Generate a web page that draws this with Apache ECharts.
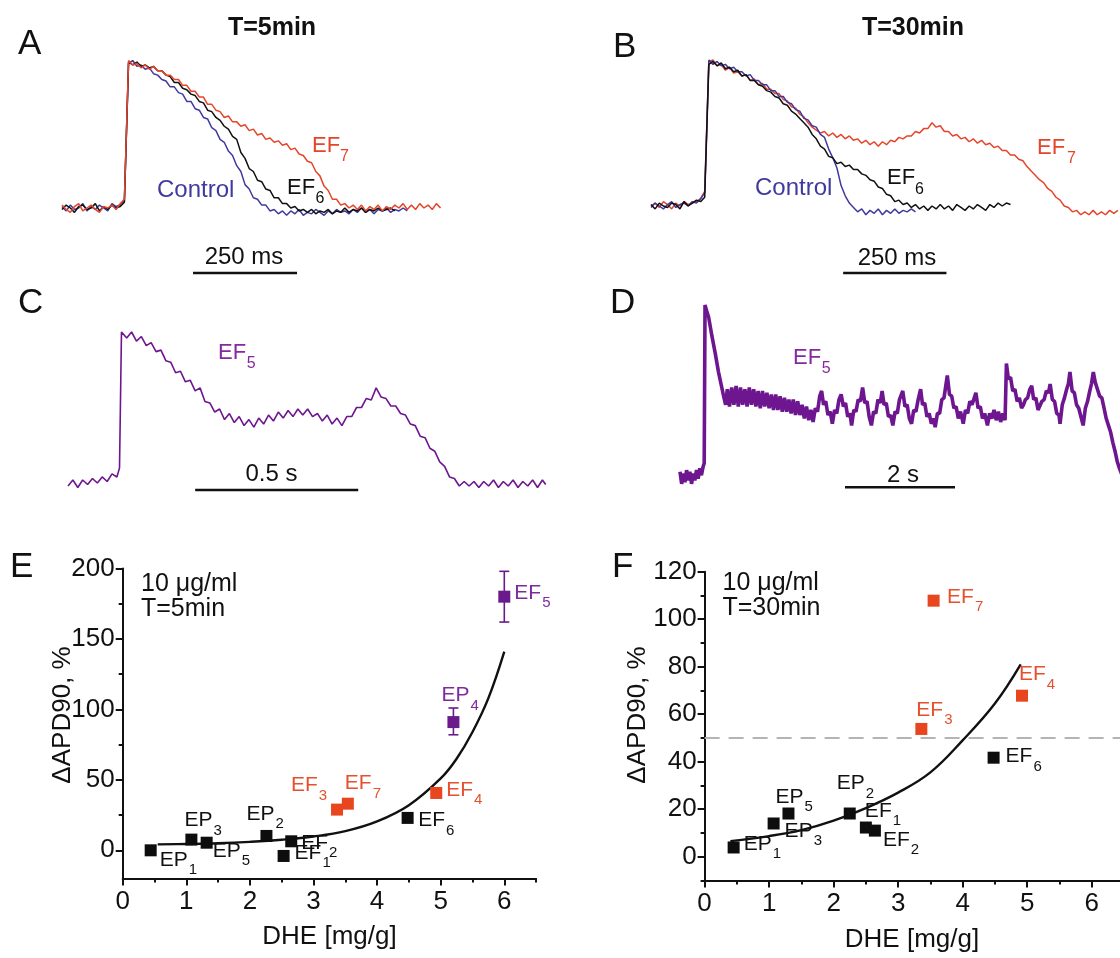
<!DOCTYPE html>
<html>
<head>
<meta charset="utf-8">
<script src="https://cdn.jsdelivr.net/npm/echarts@6/dist/echarts.min.js"></script>
<style>html,body{margin:0;padding:0;background:#fff}#c{width:1120px;height:958px}</style>
</head>
<body>
<div id="c"></div>
<script>
// ---------------- DATA ----------------
// Panels A/B: optical action potentials, sampled every 10 ms, amplitude in % (0 = rest, 100 = peak)
const stepAB = 10;
const aControl = [1,-2,2,-1,0,3,-2,1,-1,2,0,-2,3,1,2,5,99,101,97,98,95,96,92,91,88,87,83,83,79,78,73,73,68,67,62,61,55,53,47,45,39,36,29,25,16,13,7,6,2,2,-2,-1,-4,-2,-5,-2,-4,-1,-5,-3,-4,-1,-3,-5,-2,-4,-1,-3,-2,-4,-1,-3,0,-3,-1,-4,-1,-2,0,-3,-1,-2,0,-2];
const aEF6 = [-1,2,0,-3,1,2,-1,0,3,-2,1,-1,2,0,1,4,100,98,100,97,98,96,97,94,94,91,90,86,86,82,81,78,77,73,72,67,66,62,60,56,54,49,47,38,34,27,25,19,18,13,12,7,7,3,3,0,1,-2,-1,-3,-1,-4,-2,-3,-1,-4,-2,-3,0,-3,-1,-2,0,-3,-1,-2,0,-2,-1,0,-2];
const aEF7 = [2,-1,-3,1,3,-2,0,2,-1,-3,1,0,2,-1,3,6,101,98,99,96,98,95,97,94,94,91,91,88,88,84,84,80,80,76,76,71,71,67,66,62,63,59,59,56,57,53,54,50,51,47,48,45,46,43,44,40,41,37,36,32,31,25,22,15,12,6,6,2,3,0,2,-1,2,-2,1,-1,2,-2,1,-1,2,0,3,-1,2,-1,3,0,2,-1,3,0];
const bControl = [-1,2,0,-2,1,3,-1,1,2,0,3,2,5,9,100,97,99,96,97,94,95,92,92,89,90,86,86,83,83,79,79,75,75,71,70,66,65,60,59,55,54,49,47,39,33,26,14,7,2,-1,-4,-2,-6,-3,-5,-2,-6,-3,-5,-2,-5,-3,-4,-2,-4];
const bEF6 = [1,-2,2,0,-1,2,1,-2,3,0,2,4,3,6,97,99,96,98,94,95,92,93,89,90,86,86,83,82,79,78,75,74,70,69,65,63,60,57,54,49,46,41,39,34,33,29,30,27,28,25,25,22,21,18,17,13,12,8,7,3,4,1,2,-1,1,-2,0,-3,0,-2,1,-2,0,-3,1,-1,-3,0,-2,1,-1,-3,1,-1,2,0,2,1];
const bEF7 = [0,2,-1,3,1,-2,2,0,3,1,2,3,5,10,99,100,96,97,93,95,91,92,89,90,86,87,83,84,80,80,77,77,73,72,68,67,63,61,57,54,52,50,51,48,50,47,49,46,48,45,46,43,45,42,44,41,44,42,45,44,47,46,48,48,51,50,53,53,57,54,55,51,51,48,49,46,47,44,46,43,45,42,43,40,41,38,38,35,35,32,31,27,24,21,18,16,12,10,6,4,0,-1,-4,-3,-6,-4,-6,-3,-6,-4,-6,-3,-5,-3];
// Panel C: [time ms, amplitude %]
const cEF5 = [[0,-2],[15,2],[30,-3],[45,2],[60,-1],[75,3],[90,0],[105,4],[120,1],[135,6],[150,4],[158,10],[164,100],[180,96],[195,100],[210,94],[225,97],[240,91],[255,93],[270,87],[285,88],[300,81],[315,80],[330,73],[345,74],[360,67],[375,68],[390,61],[405,63],[420,54],[435,53],[450,47],[465,49],[480,42],[495,46],[510,40],[525,44],[540,38],[555,42],[570,37],[585,43],[600,39],[615,45],[630,41],[645,47],[660,43],[675,48],[690,44],[705,49],[720,45],[735,49],[750,44],[765,46],[780,41],[795,45],[810,39],[825,43],[840,38],[855,44],[870,44],[885,50],[900,50],[915,56],[930,55],[945,63],[960,57],[975,56],[990,51],[1005,51],[1020,46],[1035,45],[1050,39],[1065,38],[1080,31],[1095,30],[1110,23],[1125,21],[1140,14],[1155,11],[1170,4],[1185,3],[1200,-2],[1215,1],[1230,-2],[1245,1],[1260,-3],[1275,1],[1290,-2],[1305,2],[1320,-3],[1335,1],[1350,-2],[1365,2],[1380,-3],[1395,1],[1410,-2],[1425,2],[1440,-3],[1455,2],[1465,-1]];
// Panel D: [time ms, amplitude %]
const dEF5 = [[0,3],[30,-4],[60,2],[90,-3],[120,4],[150,-2],[180,3],[210,-4],[240,2],[270,-2],[300,4],[330,-1],[360,5],[390,1],[420,6],[440,8],[455,100],[480,97],[520,93],[580,82],[640,72],[700,61],[760,52],[800,46],[830,42],[860,51],[900,41],[940,52],[980,42],[1020,53],[1060,41],[1100,52],[1140,42],[1180,51],[1220,41],[1260,52],[1300,42],[1340,51],[1380,41],[1420,50],[1460,40],[1500,50],[1540,41],[1580,49],[1620,40],[1660,48],[1700,39],[1740,48],[1780,39],[1820,47],[1860,38],[1900,46],[1940,38],[1980,45],[2020,37],[2060,45],[2100,36],[2140,44],[2180,36],[2220,42],[2260,34],[2300,41],[2340,33],[2380,39],[2420,32],[2460,40],[2500,38],[2540,47],[2575,50],[2610,42],[2650,44],[2690,36],[2730,38],[2770,31],[2810,39],[2850,37],[2890,45],[2930,48],[2970,41],[3010,43],[3050,35],[3090,37],[3120,30],[3160,39],[3200,38],[3240,45],[3280,44],[3320,52],[3360,43],[3400,44],[3440,35],[3480,30],[3520,38],[3560,37],[3600,45],[3640,43],[3675,50],[3710,42],[3750,43],[3790,35],[3830,36],[3870,30],[3910,38],[3950,37],[3990,45],[4050,50],[4090,41],[4130,42],[4170,34],[4210,31],[4250,39],[4290,38],[4330,45],[4375,51],[4410,42],[4450,43],[4490,35],[4530,37],[4570,31],[4610,34],[4640,29],[4680,37],[4720,37],[4760,45],[4800,46],[4860,59],[4900,48],[4940,47],[4980,40],[5020,41],[5060,34],[5100,38],[5150,31],[5190,39],[5230,37],[5270,44],[5310,42],[5380,49],[5420,40],[5460,41],[5500,34],[5540,37],[5590,30],[5630,37],[5670,34],[5710,39],[5750,33],[5790,38],[5830,32],[5870,37],[5910,33],[5935,66],[5970,57],[6010,58],[6050,50],[6090,51],[6130,44],[6170,46],[6210,40],[6245,42],[6280,45],[6320,46],[6360,51],[6395,53],[6430,45],[6470,46],[6510,39],[6545,38],[6580,44],[6620,45],[6660,50],[6700,49],[6730,54],[6770,45],[6810,44],[6850,37],[6890,36],[6910,31],[6950,42],[6990,46],[7030,51],[7060,54],[7090,61],[7130,50],[7170,49],[7210,42],[7250,40],[7290,35],[7330,30],[7370,40],[7410,44],[7450,50],[7480,54],[7515,61],[7550,55],[7590,51],[7630,47],[7670,46],[7710,40],[7750,34],[7790,30],[7830,26],[7870,20],[7910,15],[7950,9],[7990,5],[8040,1],[8100,-2]];
// Scale bars: [start ms, end ms, level %]
const barA = [315, 565, -44.5];
const barB = [465, 715, -45.9];
const barC = [390, 890, -4.6];
const barD = [3000, 5000, -6];

// Panel E (T=5min)
const eNames = ['EP','EP','EP','EP','EF','EF','EF','EF','EF','EF','EP','EF'];
const eSubs  = ['1','3','5','2','1','2','3','7','4','6','4','5'];
const eGroup = ['k','k','k','k','k','k','r','r','r','k','p','p'];
const eX = [0.44,1.08,1.32,2.26,2.53,2.65,3.37,3.54,4.93,4.48,5.2,6.0];
const eY = [0,7.6,5.4,10.2,-4,6.4,28.9,33.1,40.7,23,91,180];
const eErrX = [5.2, 6.0];
const eErrLo = [82, 162];
const eErrHi = [101, 198];
const eFitX = [0.55,1,1.5,2,2.5,3,3.5,4,4.5,5,5.25,5.5,5.75,6];
const eFitY = [4.2,4.5,5,6,7.5,9.8,13.6,20.5,32,51,65,84,108,141];
// Panel F (T=30min)
const fNames = ['EP','EP','EP','EP','EF','EF','EF','EF','EF','EF'];
const fSubs  = ['1','3','5','2','1','2','3','7','4','6'];
const fGroup = ['k','k','k','k','k','k','r','r','r','k'];
const fX = [0.45,1.07,1.3,2.25,2.5,2.64,3.36,3.55,4.92,4.48];
const fY = [3.9,14,18.2,18.2,12.3,11,53.8,107.8,67.8,41.7];
const fFitX = [0.4,1,1.5,2,2.5,3,3.5,4,4.5,4.9];
const fFitY = [6.6,8.7,11.2,15.2,20.5,27,35.5,49,64.5,81];
const fThreshold = 50;
// Tick values
const xTicks = [0,1,2,3,4,5,6];
const xMinorTicks = [0.5,1.5,2.5,3.5,4.5,5.5,6.5];
const eYTicks = [0,50,100,150,200];
const eYMinor = [25,75,125,175];
const fYTicks = [0,20,40,60,80,100,120];
const fYMinor = [-10,10,30,50,70,90,110];

// ---------------- STYLE ----------------
const FF = '"Liberation Sans", Arial, Helvetica, sans-serif';
const C_BLUE = '#403a9e', C_BLACK = '#111111', C_RED = '#e5452a', C_PURPLE = '#6e1590', C_PURPLE_T = '#86299f';
const GROUP_COL = {k: '#0d0d0d', r: '#e8461f', p: '#6b1a8c'};
const GROUP_TXT = {k: '#111111', r: '#e5502e', p: '#7d2a9c'};
// label offsets [dx, dy] from the marker centre (style only)
const eLabelOff = [[9,9.5],[-7,-19],[6,8],[-20,-22],[11,-3],[10,1.7],[-46,-24],[-3,-20],[10,-2.7],[10.6,2.6],[-12,-26.5],[10,-3.4]];
const fLabelOff = [[10,-3.3],[11,7.7],[-13,-16.5],[-13,-30],[-1,-16.3],[8,9.1],[-5,-19],[13.5,-3.7],[-3,-21],[12,-1.3]];

// ---------------- BUILD ----------------
function trace(values, xi, color, width) {
  return {type:'line', xAxisIndex:xi, yAxisIndex:xi, data: values.map((v,i)=>[i*stepAB, v]),
    symbol:'none', lineStyle:{color, width}, silent:true, animation:false, z:2};
}
function pairTrace(pairs, xi, color, width) {
  return {type:'line', xAxisIndex:xi, yAxisIndex:xi, data: pairs,
    symbol:'none', lineStyle:{color, width}, silent:true, animation:false, z:2};
}
function bar(b, xi) {
  return {type:'line', xAxisIndex:xi, yAxisIndex:xi, data:[[b[0],b[2]],[b[1],b[2]]],
    symbol:'none', lineStyle:{color:'#111', width:2.6}, silent:true, animation:false, z:3};
}
function scatterData(xs, ys, names, subs, groups, offs) {
  return xs.map((x,i)=>({
    value:[x, ys[i]],
    itemStyle:{color: GROUP_COL[groups[i]], opacity:1},
    label:{show:true, position:'inside', align:'left', verticalAlign:'middle', opacity:1,
      offset: offs[i],
      formatter: '{m|' + names[i] + '}{s|' + subs[i] + '}',
      rich:{
        m:{fontSize:21, fontFamily:FF, color: GROUP_TXT[groups[i]], opacity:1},
        s:{fontSize:15, fontFamily:FF, color: GROUP_TXT[groups[i]], opacity:1, padding:[20,0,0,1]}
      }}
  }));
}
function hiddenAxis(gi, min, max) {
  return {type:'value', gridIndex:gi, min, max, show:false, splitLine:{show:false}};
}
function majorAxis(gi, min, max, ticks, pos, margin) {
  return {type:'value', gridIndex:gi, min, max, position:pos, offset:0,
    axisLine:{show:true, onZero:false, lineStyle:{color:'#111', width:2}},
    axisTick:{show:true, customValues:ticks, length:7, inside:false, lineStyle:{color:'#111', width:2}},
    axisLabel:{show:true, customValues:ticks, fontSize:26, fontFamily:FF, color:'#111', margin},
    splitLine:{show:false}, minorTick:{show:false}};
}
function minorAxis(gi, min, max, ticks, pos) {
  return {type:'value', gridIndex:gi, min, max, position:pos, offset:0,
    axisLine:{show:false, onZero:false},
    axisTick:{show:true, customValues:ticks, length:4, inside:false, lineStyle:{color:'#111', width:2}},
    axisLabel:{show:false}, splitLine:{show:false}};
}
function T(x, y, text, size, color, opt) {
  opt = opt || {};
  const el = {type:'text', x, y, silent:true, z:10,
    style:{text, fill: color || '#111', font: (opt.weight||'normal') + ' ' + size + 'px ' + FF,
      align: opt.align || 'left', verticalAlign:'middle', textAlign: opt.align || 'left', textVerticalAlign:'middle'}};
  if (opt.rotation) el.rotation = opt.rotation;
  return el;
}

const errRender = function(params, api) {
  const x = api.value(0), lo = api.value(1), hi = api.value(2);
  const p1 = api.coord([x, lo]), p2 = api.coord([x, hi]);
  const w = 5, st = {stroke: GROUP_COL.p, lineWidth: 1.6};
  return {type:'group', children:[
    {type:'line', shape:{x1:p1[0], y1:p1[1], x2:p2[0], y2:p2[1]}, style:st},
    {type:'line', shape:{x1:p1[0]-w, y1:p1[1], x2:p1[0]+w, y2:p1[1]}, style:st},
    {type:'line', shape:{x1:p2[0]-w, y1:p2[1], x2:p2[0]+w, y2:p2[1]}, style:st}
  ]};
};

const gridBase = {containLabel:false, outerBoundsMode:'none'};
const option = {
  animation:false,
  backgroundColor:'#fff',
  grid:[
    Object.assign({left:62, top:47.4, width:395.2, height:233.6}, gridBase),
    Object.assign({left:651, top:45.4, width:475.2, height:233.6}, gridBase),
    Object.assign({left:68, top:316.9, width:489.1, height:181.2}, gridBase),
    Object.assign({left:680, top:287.8, width:451, height:206.4}, gridBase),
    Object.assign({left:122.7, top:568.5, width:413.4, height:310}, gridBase),
    Object.assign({left:704.6, top:571.7, width:419.3, height:308.8}, gridBase)
  ],
  xAxis:[
    hiddenAxis(0, 0, 950), hiddenAxis(1, 0, 1150), hiddenAxis(2, 0, 1500), hiddenAxis(3, 0, 8200),
    majorAxis(4, 0, 6.5, xTicks, 'bottom', 10), minorAxis(4, 0, 6.5, xMinorTicks, 'bottom'),
    majorAxis(5, 0, 6.5, xTicks, 'bottom', 10), minorAxis(5, 0, 6.5, xMinorTicks, 'bottom')
  ],
  yAxis:[
    hiddenAxis(0, -50, 110), hiddenAxis(1, -50, 110), hiddenAxis(2, -10, 110), hiddenAxis(3, -10, 110),
    majorAxis(4, -20, 200, eYTicks, 'left', 8), minorAxis(4, -20, 200, eYMinor, 'left'),
    majorAxis(5, -10, 120, fYTicks, 'left', 8), minorAxis(5, -10, 120, fYMinor, 'left')
  ],
  series:[
    trace(aControl, 0, C_BLUE, 1.5), trace(aEF6, 0, C_BLACK, 1.5), trace(aEF7, 0, C_RED, 1.5), bar(barA, 0),
    trace(bEF7, 1, C_RED, 1.5), trace(bControl, 1, C_BLUE, 1.5), trace(bEF6, 1, C_BLACK, 1.5), bar(barB, 1),
    pairTrace(cEF5, 2, C_PURPLE, 1.6), bar(barC, 2),
    pairTrace(dEF5, 3, C_PURPLE, 3.6), bar(barD, 3),
    {type:'line', xAxisIndex:4, yAxisIndex:4, data: eFitX.map((x,i)=>[x, eFitY[i]]), smooth:0.4,
      symbol:'none', lineStyle:{color:'#111', width:2.4}, silent:true, z:2},
    {type:'custom', xAxisIndex:4, yAxisIndex:4, data: eErrX.map((x,i)=>[x, eErrLo[i], eErrHi[i]]),
      renderItem: errRender, encode:{x:0, y:[1,2]}, silent:true, z:3},
    {type:'scatter', xAxisIndex:4, yAxisIndex:4, symbol:'rect', symbolSize:12, silent:true, z:4,
      itemStyle:{opacity:1}, data: scatterData(eX, eY, eNames, eSubs, eGroup, eLabelOff)},
    {type:'line', xAxisIndex:6, yAxisIndex:6, data:[[0, fThreshold],[6.5, fThreshold]], symbol:'none',
      lineStyle:{color:'#b4b4b4', width:2, type:[15,9]}, silent:true, z:1},
    {type:'line', xAxisIndex:6, yAxisIndex:6, data: fFitX.map((x,i)=>[x, fFitY[i]]), smooth:0.4,
      symbol:'none', lineStyle:{color:'#111', width:2.4}, silent:true, z:2},
    {type:'scatter', xAxisIndex:6, yAxisIndex:6, symbol:'rect', symbolSize:12, silent:true, z:4,
      itemStyle:{opacity:1}, data: scatterData(fX, fY, fNames, fSubs, fGroup, fLabelOff)}
  ],
  graphic:[
    // panel letters
    T(18, 44, 'A', 35), T(613, 47.5, 'B', 35), T(18, 303, 'C', 35), T(610, 303, 'D', 35),
    T(10, 567, 'E', 35), T(612, 567, 'F', 35),
    // titles
    T(272, 28, 'T=5min', 25, '#111', {weight:'bold', align:'center'}),
    T(913, 28, 'T=30min', 25, '#111', {weight:'bold', align:'center'}),
    // A labels
    T(157, 190, 'Control', 24, C_BLUE), T(287, 188, 'EF', 22), T(315.5, 199, '6', 16),
    T(312, 146, 'EF', 22, C_RED), T(340, 156.5, '7', 16, C_RED),
    T(244, 257, '250 ms', 24, '#111', {align:'center'}),
    // B labels
    T(755, 188, 'Control', 24, C_BLUE), T(887, 178, 'EF', 22), T(915, 190, '6', 16),
    T(1037, 148, 'EF', 22, C_RED), T(1067, 159, '7', 16, C_RED),
    T(897, 258, '250 ms', 24, '#111', {align:'center'}),
    // C labels
    T(218, 353, 'EF', 22, C_PURPLE_T), T(246.7, 364, '5', 16, C_PURPLE_T),
    T(271.5, 474, '0.5 s', 24, '#111', {align:'center'}),
    // D labels
    T(793, 358, 'EF', 22, C_PURPLE_T), T(821.7, 368.5, '5', 16, C_PURPLE_T),
    T(903, 475.5, '2 s', 24, '#111', {align:'center'}),
    // E texts
    T(141, 584, '10 μg/ml', 25), T(141, 609, 'T=5min', 25),
    T(63, 715, 'ΔAPD90, %', 26, '#111', {align:'center', rotation:Math.PI/2}),
    T(329.5, 937, 'DHE [mg/g]', 26, '#111', {align:'center'}),
    // F texts
    T(722.5, 583, '10 μg/ml', 25), T(722.5, 608, 'T=30min', 25),
    T(637.7, 715, 'ΔAPD90, %', 26, '#111', {align:'center', rotation:Math.PI/2}),
    T(912, 940, 'DHE [mg/g]', 26, '#111', {align:'center'})
  ]
};
const chart = echarts.init(document.getElementById('c'), null, {renderer:'canvas', width:1120, height:958});
chart.setOption(option);
</script>
</body>
</html>
